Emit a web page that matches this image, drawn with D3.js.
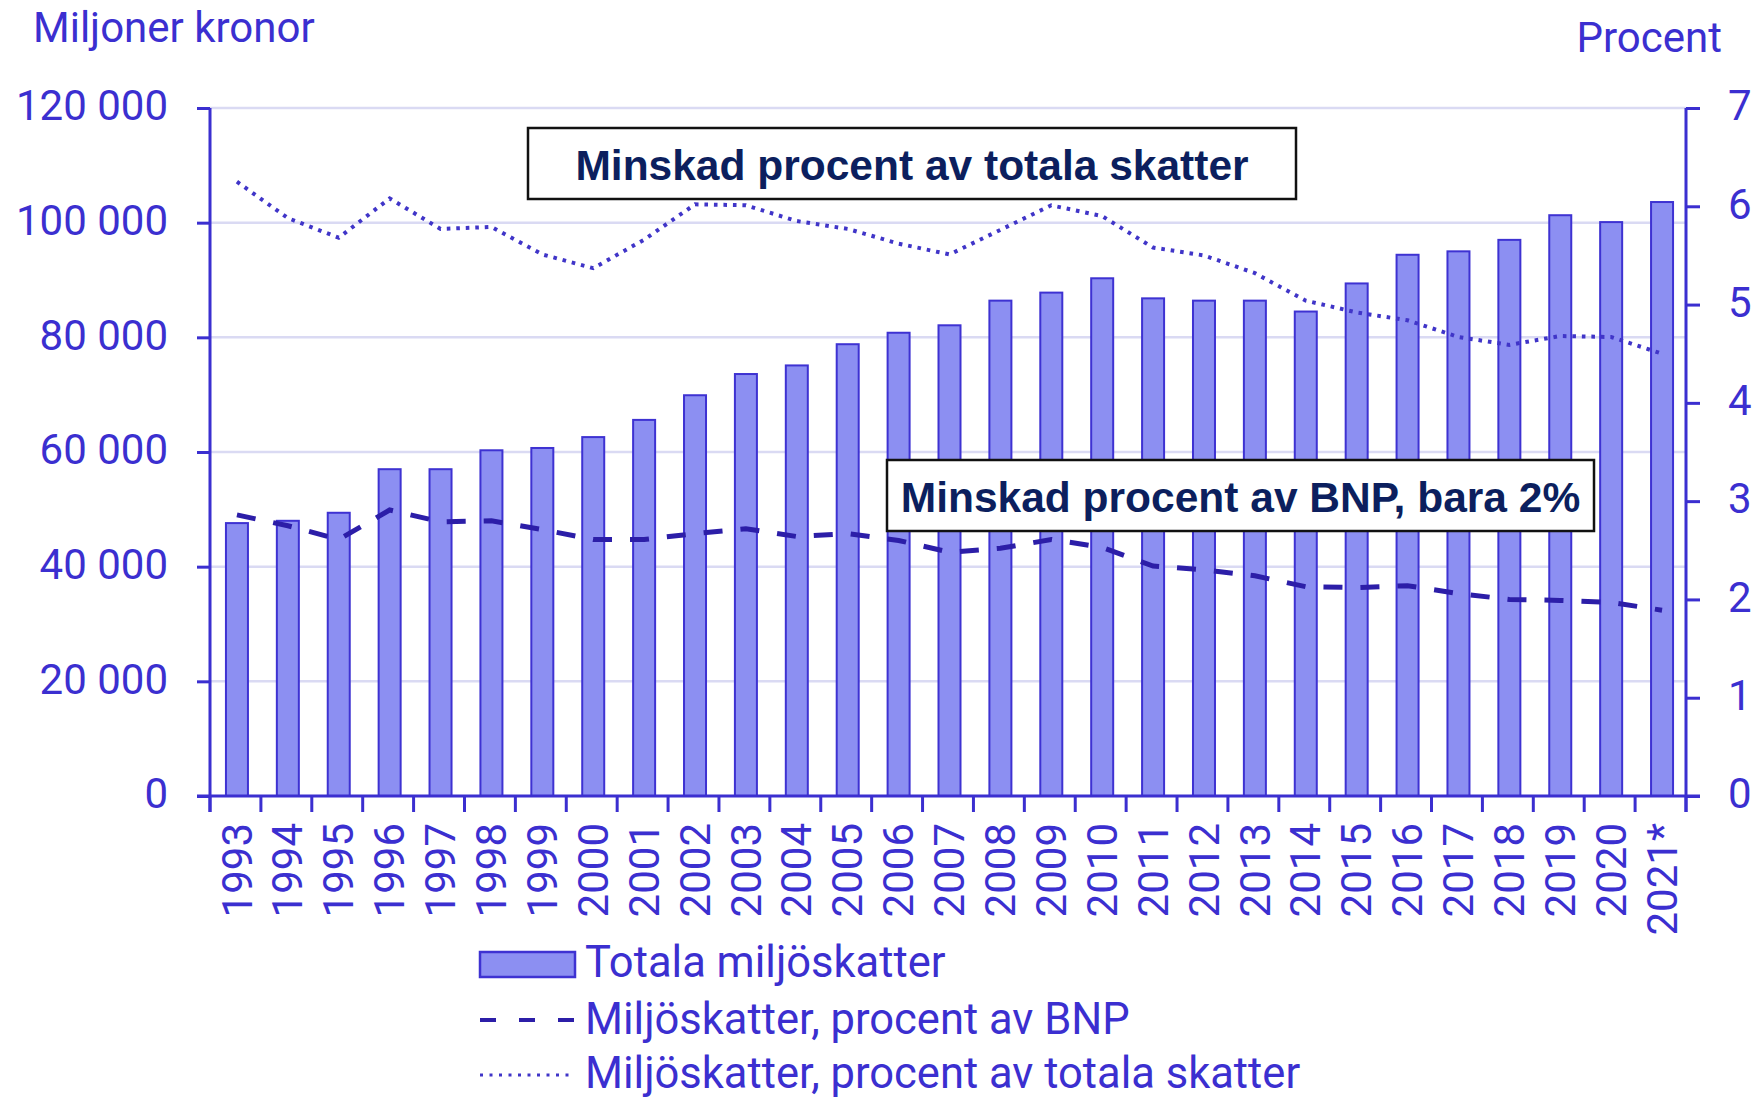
<!DOCTYPE html>
<html>
<head>
<meta charset="utf-8">
<script src="https://cdn.jsdelivr.net/npm/d3@7"></script>
<style>
  html, body { margin: 0; padding: 0; background: #ffffff; }
  svg { display: block; }
</style>
</head>
<body>
<svg id="chart" width="1754" height="1098"></svg>
<script>
// ---------------- DATA ----------------
const years = ["1993","1994","1995","1996","1997","1998","1999","2000","2001","2002",
  "2003","2004","2005","2006","2007","2008","2009","2010","2011","2012",
  "2013","2014","2015","2016","2017","2018","2019","2020","2021*"];

// Totala miljöskatter, miljoner kronor
const totalEnvTaxes = [47600, 48000, 49400, 57000, 57000, 60300, 60700, 62600, 65600, 69900,
  73600, 75100, 78800, 80800, 82100, 86400, 87800, 90300, 86800, 86400,
  86400, 84500, 89400, 94400, 95000, 97000, 101300, 100100, 103600];

// Miljöskatter, procent av BNP
const pctOfGDP = [2.86, 2.75, 2.61, 2.91, 2.79, 2.80, 2.71, 2.61, 2.61, 2.67,
  2.72, 2.64, 2.67, 2.60, 2.48, 2.52, 2.61, 2.53, 2.34, 2.30,
  2.24, 2.13, 2.12, 2.14, 2.06, 2.00, 1.99, 1.97, 1.89];

// Miljöskatter, procent av totala skatter
const pctOfTotalTaxes = [6.25, 5.88, 5.68, 6.08, 5.77, 5.79, 5.51, 5.37, 5.66, 6.02,
  6.01, 5.85, 5.77, 5.62, 5.51, 5.76, 6.01, 5.90, 5.58, 5.50,
  5.32, 5.04, 4.92, 4.84, 4.67, 4.59, 4.68, 4.67, 4.50];

const leftTicks = [0, 20000, 40000, 60000, 80000, 100000, 120000];
const rightTicks = [0, 1, 2, 3, 4, 5, 6, 7];

const leftAxisTitle = "Miljoner kronor";
const rightAxisTitle = "Procent";
const legendLabels = ["Totala miljöskatter", "Miljöskatter, procent av BNP", "Miljöskatter, procent av totala skatter"];
const annotationTexts = ["Minskad procent av totala skatter", "Minskad procent av BNP, bara 2%"];

// ---------------- STYLE / LAYOUT ----------------
const W = 1754, H = 1098;
const plotLeft = 210, plotRight = 1686, plotTop = 108, plotBottom = 796;
const blue = "#3b2fd0";
const barFill = "#8c8ff2";
const barStroke = "#3e32d2";
const gridColor = "#dadaf3";
const dashColor = "#2c1ea8";
const dotColor = "#4035c8";
const navy = "#0c1f5e";
const font = "Roboto, 'Liberation Sans', Arial, sans-serif";
const fontSize = 42;

const svg = d3.select("#chart");
svg.append("rect").attr("width", W).attr("height", H).attr("fill", "#fff");

// ---------------- SCALES ----------------
const x = d3.scaleBand().domain(years).range([plotLeft, plotRight]).padding(0);
const yL = d3.scaleLinear().domain([0, 120000]).range([plotBottom, plotTop]);
const yR = d3.scaleLinear().domain([0, 7]).range([plotBottom, plotTop]);
const cx = d => x(d) + x.bandwidth() / 2 + 1.5;

const locale = d3.formatLocale({ decimal: ",", thousands: " ", grouping: [3], currency: ["", ""] });
const fmt = locale.format(",");

// ---------------- GRIDLINES ----------------
svg.append("g")
  .selectAll("line")
  .data(leftTicks.filter(t => t > 0))
  .join("line")
  .attr("x1", plotLeft).attr("x2", plotRight)
  .attr("y1", d => yL(d)).attr("y2", d => yL(d))
  .attr("stroke", gridColor).attr("stroke-width", 2.5);

// ---------------- BARS ----------------
const barW = 22;
svg.append("g")
  .selectAll("rect")
  .data(years.map((y, i) => ({ y, v: totalEnvTaxes[i] })))
  .join("rect")
  .attr("x", d => cx(d.y) - barW / 2)
  .attr("y", d => yL(d.v))
  .attr("width", barW)
  .attr("height", d => plotBottom - yL(d.v))
  .attr("fill", barFill)
  .attr("stroke", barStroke)
  .attr("stroke-width", 2);

// ---------------- LINES ----------------
const pctLine = d3.line().x((d, i) => cx(years[i])).y(d => yR(d));
svg.append("path")
  .datum(pctOfGDP)
  .attr("d", pctLine)
  .attr("fill", "none")
  .attr("stroke", dashColor)
  .attr("stroke-width", 5)
  .attr("stroke-dasharray", "19,18");

svg.append("path")
  .datum(pctOfTotalTaxes)
  .attr("d", pctLine)
  .attr("fill", "none")
  .attr("stroke", dotColor)
  .attr("stroke-width", 4)
  .attr("stroke-dasharray", "3.6,5.9");

// ---------------- AXES ----------------
const axisStyle = g => {
  g.select(".domain").remove();
  g.selectAll(".tick line").attr("stroke", blue).attr("stroke-width", 3);
  g.selectAll(".tick text")
    .attr("fill", blue)
    .attr("font-family", font)
    .attr("font-size", fontSize)
    .attr("dy", "0.28em");
};

svg.append("g")
  .attr("transform", `translate(${plotLeft},0)`)
  .call(d3.axisLeft(yL).tickValues(leftTicks).tickFormat(fmt).tickSize(13).tickPadding(29))
  .call(axisStyle);

svg.append("g")
  .attr("transform", `translate(${plotRight},0)`)
  .call(d3.axisRight(yR).tickValues(rightTicks).tickFormat(d3.format("d")).tickSize(14).tickPadding(28))
  .call(axisStyle);

// axis lines
svg.append("line").attr("x1", plotLeft).attr("x2", plotLeft).attr("y1", plotTop).attr("y2", 812)
  .attr("stroke", blue).attr("stroke-width", 3);
svg.append("line").attr("x1", plotRight).attr("x2", plotRight).attr("y1", plotTop).attr("y2", 812)
  .attr("stroke", blue).attr("stroke-width", 3);
svg.append("line").attr("x1", plotLeft - 13).attr("x2", plotRight + 14).attr("y1", plotBottom).attr("y2", plotBottom)
  .attr("stroke", blue).attr("stroke-width", 3);

// x boundary ticks
const boundaries = years.map(y => x(y)).concat([x.range()[1]]);
svg.append("g")
  .selectAll("line")
  .data(boundaries)
  .join("line")
  .attr("x1", d => d).attr("x2", d => d)
  .attr("y1", plotBottom).attr("y2", 812)
  .attr("stroke", blue).attr("stroke-width", 3);

// x labels (rotated)
svg.append("g")
  .selectAll("text")
  .data(years)
  .join("text")
  .attr("transform", d => `translate(${cx(d) - 0.5},823) rotate(-90)`)
  .attr("text-anchor", "end")
  .attr("dy", "0.36em")
  .attr("fill", blue)
  .attr("font-family", font)
  .attr("font-size", fontSize)
  .text(d => d);

// axis titles
svg.append("text").attr("x", 33).attr("y", 42)
  .attr("fill", blue).attr("font-family", font).attr("font-size", fontSize)
  .text(leftAxisTitle);
svg.append("text").attr("x", 1722).attr("y", 52).attr("text-anchor", "end")
  .attr("fill", blue).attr("font-family", font).attr("font-size", fontSize)
  .text(rightAxisTitle);

// ---------------- LEGEND ----------------
const lg = svg.append("g");
lg.append("rect").attr("x", 480).attr("y", 952).attr("width", 95).attr("height", 25)
  .attr("fill", barFill).attr("stroke", barStroke).attr("stroke-width", 2.5);
lg.append("line").attr("x1", 480).attr("x2", 575).attr("y1", 1020).attr("y2", 1020)
  .attr("stroke", dashColor).attr("stroke-width", 4).attr("stroke-dasharray", "16,23");
lg.append("line").attr("x1", 480).attr("x2", 575).attr("y1", 1075).attr("y2", 1075)
  .attr("stroke", dotColor).attr("stroke-width", 3).attr("stroke-dasharray", "3,6.5");
const legendBaselines = [977, 1034, 1088];
lg.selectAll("text")
  .data(legendLabels)
  .join("text")
  .attr("x", 585)
  .attr("y", (d, i) => legendBaselines[i])
  .attr("fill", blue)
  .attr("font-family", font)
  .attr("font-size", 43.5)
  .text(d => d);

// ---------------- ANNOTATION BOXES ----------------
const boxes = [
  { x0: 528, y0: 128, x1: 1296, y1: 199, baseline: 180 },
  { x0: 887, y0: 460, x1: 1594, y1: 531, baseline: 512 }
];
const ann = svg.append("g");
boxes.forEach((b, i) => {
  ann.append("rect")
    .attr("x", b.x0).attr("y", b.y0)
    .attr("width", b.x1 - b.x0).attr("height", b.y1 - b.y0)
    .attr("fill", "#fff").attr("stroke", "#111").attr("stroke-width", 2.5);
  ann.append("text")
    .attr("x", (b.x0 + b.x1) / 2).attr("y", b.baseline)
    .attr("text-anchor", "middle")
    .attr("fill", navy)
    .attr("font-family", "'Liberation Sans', Arial, sans-serif")
    .attr("font-weight", "bold")
    .attr("font-size", 42.5)
    .text(annotationTexts[i]);
});
</script>
</body>
</html>
